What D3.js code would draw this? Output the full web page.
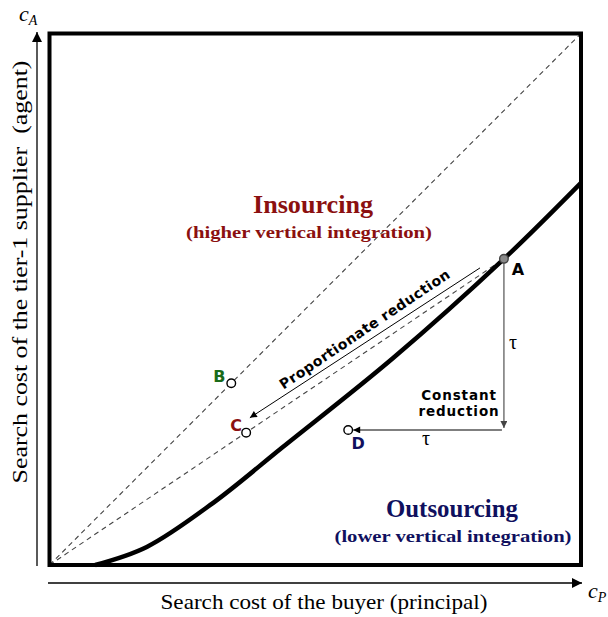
<!DOCTYPE html>
<html>
<head>
<meta charset="utf-8">
<script src="https://cdn.jsdelivr.net/npm/d3@7"></script>
<style>
  body { margin: 0; background: #fff; }
  svg { display: block; }
</style>
</head>
<body>
<svg id="chart" width="608" height="617"></svg>
<script>
// threshold curve between insourcing and outsourcing (cP, cA)
var curveX = [0.086, 0.183, 0.308, 0.439, 0.646, 0.855, 1.0];
var curveY = [0.0, 0.034, 0.117, 0.222, 0.389, 0.576, 0.719];

// labelled points
var pointNames = ["A", "B", "C", "D"];
var pointX = [0.855, 0.342, 0.370, 0.562];
var pointY = [0.576, 0.342, 0.249, 0.254];
var pointColors = ["#000000", "#1a6b1a", "#8b1010", "#10105e"];

var tau = 0.32;

var svg = d3.select("#chart");

var x = d3.scaleLinear().domain([0, 1]).range([49.5, 581]);
var y = d3.scaleLinear().domain([0, 1]).range([565, 33.5]);

var pts = pointNames.map(function (n, i) {
  return { name: n, x: pointX[i], y: pointY[i], color: pointColors[i] };
});
var A = pts[0], B = pts[1], C = pts[2], D = pts[3];

// arrow markers
var defs = svg.append("defs");
function marker(id, color, w, h) {
  defs.append("marker")
    .attr("id", id)
    .attr("viewBox", "0 0 10 10")
    .attr("refX", 10).attr("refY", 5)
    .attr("markerUnits", "userSpaceOnUse")
    .attr("markerWidth", w).attr("markerHeight", h)
    .attr("orient", "auto")
    .append("path")
    .attr("d", "M0,0 L10,5 L0,10 z")
    .attr("fill", color);
}
marker("bigArrow", "#000", 14, 10);
marker("smallArrow", "#000", 9, 7);
marker("greyArrow", "#444", 9, 7);

// outer axes with arrows
svg.append("line")
  .attr("x1", 37).attr("y1", 566).attr("x2", 37).attr("y2", 32)
  .attr("stroke", "#000").attr("stroke-width", 1.3)
  .attr("marker-end", "url(#bigArrow)");
svg.append("line")
  .attr("x1", 48).attr("y1", 583).attr("x2", 582).attr("y2", 583)
  .attr("stroke", "#000").attr("stroke-width", 1.3)
  .attr("marker-end", "url(#bigArrow)");

// dashed reference lines
svg.append("line")
  .attr("x1", x(0)).attr("y1", y(0)).attr("x2", x(1)).attr("y2", y(1))
  .attr("stroke", "#444").attr("stroke-width", 1.1)
  .attr("stroke-dasharray", "5,4");
svg.append("line")
  .attr("x1", x(0)).attr("y1", y(0)).attr("x2", x(A.x)).attr("y2", y(A.y))
  .attr("stroke", "#444").attr("stroke-width", 1.1)
  .attr("stroke-dasharray", "5,4");

// threshold curve
var curveData = curveX.map(function (d, i) { return [d, curveY[i]]; });
svg.append("path")
  .datum(curveData)
  .attr("fill", "none")
  .attr("stroke", "#000")
  .attr("stroke-width", 4.5)
  .attr("d", d3.line().x(function (d) { return x(d[0]); })
    .y(function (d) { return y(d[1]); })
    .curve(d3.curveCatmullRom));

// box
svg.append("rect")
  .attr("x", x(0)).attr("y", y(1))
  .attr("width", x(1) - x(0)).attr("height", y(0) - y(1))
  .attr("fill", "none").attr("stroke", "#000").attr("stroke-width", 4);

// proportionate reduction arrow (a bit above the ray)
svg.append("line")
  .attr("x1", x(A.x - 0.045)).attr("y1", y(A.y - 0.017))
  .attr("x2", x(C.x + 0.007)).attr("y2", y(C.y + 0.028))
  .attr("stroke", "#000").attr("stroke-width", 1)
  .attr("marker-end", "url(#smallArrow)");
var angle = Math.atan2(y(C.y) - y(A.y), x(C.x) - x(A.x)) * 180 / Math.PI + 180;
var mx = x(0.598), my = y(0.436);
svg.append("text")
  .attr("transform", "translate(" + mx + "," + my + ") rotate(" + angle + ")")
  .attr("text-anchor", "middle")
  .attr("font-family", "DejaVu Sans, Verdana, sans-serif")
  .attr("font-weight", "bold").attr("font-size", 14)
  .attr("textLength", 202)
  .text("Proportionate reduction");

// constant reduction arrows
svg.append("line")
  .attr("x1", x(A.x)).attr("y1", y(A.y) + 4)
  .attr("x2", x(A.x)).attr("y2", y(A.y - tau) - 1)
  .attr("stroke", "#444").attr("stroke-width", 1.1)
  .attr("marker-end", "url(#greyArrow)");
svg.append("line")
  .attr("x1", x(A.x) - 2).attr("y1", y(D.y))
  .attr("x2", x(D.x) + 5).attr("y2", y(D.y))
  .attr("stroke", "#000").attr("stroke-width", 1.1)
  .attr("marker-end", "url(#smallArrow)");
var serif = "Liberation Serif, Times New Roman, serif";
svg.append("text")
  .attr("x", x(A.x) + 9).attr("y", y(A.y - tau / 2) + 5)
  .attr("text-anchor", "middle")
  .attr("font-family", serif).attr("font-size", 20)
  .text("τ");
svg.append("text")
  .attr("x", x((A.x + D.x) / 2)).attr("y", y(D.y) + 15)
  .attr("text-anchor", "middle")
  .attr("font-family", serif).attr("font-size", 20)
  .text("τ");
svg.append("text")
  .attr("x", 459).attr("y", 400)
  .attr("text-anchor", "middle")
  .attr("font-family", "DejaVu Sans, Verdana, sans-serif")
  .attr("font-weight", "bold").attr("font-size", 13.5)
  .selectAll("tspan")
  .data(["Constant", "reduction"])
  .enter().append("tspan")
  .attr("x", 459)
  .attr("dy", function (d, i) { return i ? 16 : 0; })
  .attr("letter-spacing", 0.9)
  .text(function (d) { return d; });

// points
svg.selectAll(".pt")
  .data(pts)
  .enter().append("circle")
  .attr("class", "pt")
  .attr("cx", function (d) { return x(d.x); })
  .attr("cy", function (d) { return y(d.y); })
  .attr("r", 4.3)
  .attr("fill", function (d) { return d.name === "A" ? "#8a8a8a" : "#fff"; })
  .attr("stroke", function (d) { return d.name === "A" ? "#444" : "#000"; })
  .attr("stroke-width", 1.4);

var labelOffset = { A: [14, 16], B: [-12, -1], C: [-10, -2], D: [10, 19] };
svg.selectAll(".plab")
  .data(pts)
  .enter().append("text")
  .attr("class", "plab")
  .attr("x", function (d) { return x(d.x) + labelOffset[d.name][0]; })
  .attr("y", function (d) { return y(d.y) + labelOffset[d.name][1]; })
  .attr("text-anchor", "middle")
  .attr("font-family", "DejaVu Sans, Verdana, sans-serif")
  .attr("font-weight", "bold").attr("font-size", 16)
  .attr("fill", function (d) { return d.color; })
  .text(function (d) { return d.name; });

// region labels
function label(txt, cx, cy, size, len, color, bold) {
  return svg.append("text")
    .attr("x", cx).attr("y", cy)
    .attr("text-anchor", "middle")
    .attr("font-family", serif)
    .attr("font-weight", bold ? "bold" : "normal")
    .attr("font-size", size)
    .attr("textLength", len)
    .attr("lengthAdjust", "spacingAndGlyphs")
    .attr("fill", color)
    .text(txt);
}
label("Insourcing", 313, 213, 25, 120, "#8b1010", true);
label("(higher vertical integration)", 309, 238, 17.5, 246, "#8b1010", true);
label("Outsourcing", 452, 517, 25, 132, "#10105e", true);
label("(lower vertical integration)", 453, 542, 17.5, 237, "#10105e", true);

// axis titles
label("Search cost of the buyer (principal)", 324, 609, 21, 327, "#000", false);
svg.append("text")
  .attr("transform", "translate(27,272) rotate(-90)")
  .attr("text-anchor", "middle")
  .attr("font-family", serif).attr("font-size", 21)
  .attr("textLength", 423)
  .attr("lengthAdjust", "spacingAndGlyphs")
  .attr("xml:space", "preserve")
  .text("Search cost of the tier-1 supplier  (agent)");

// axis symbols
var ca = svg.append("text").attr("x", 19).attr("y", 21)
  .attr("font-family", serif).attr("font-style", "italic").attr("font-size", 22);
ca.append("tspan").text("c");
ca.append("tspan").attr("font-size", 14).attr("dy", 4).text("A");
var cp = svg.append("text").attr("x", 588).attr("y", 598)
  .attr("font-family", serif).attr("font-style", "italic").attr("font-size", 22);
cp.append("tspan").text("c");
cp.append("tspan").attr("font-size", 14).attr("dy", 4).text("P");
</script>
</body>
</html>
